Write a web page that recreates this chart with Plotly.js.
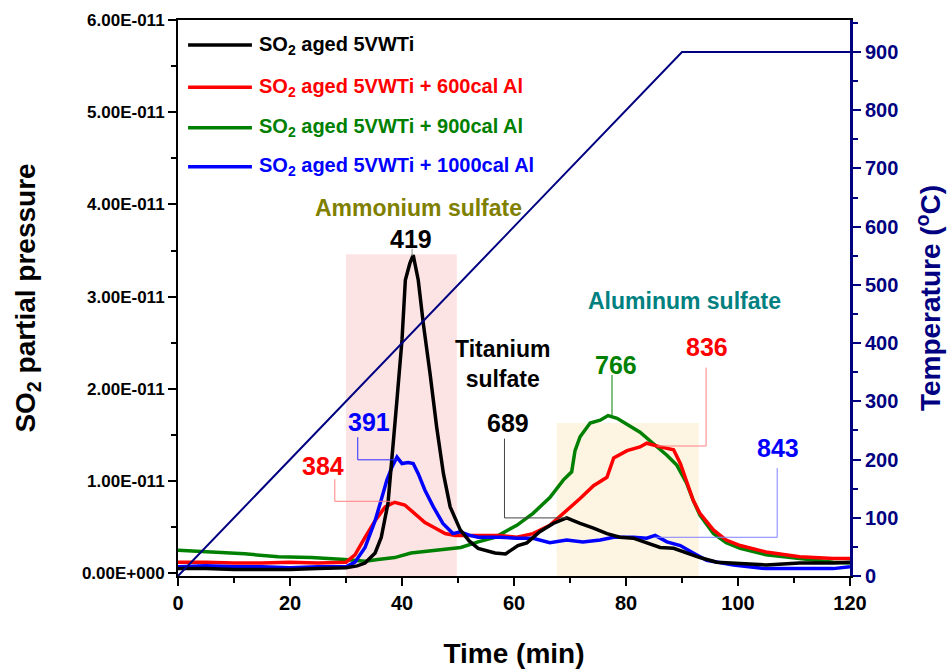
<!DOCTYPE html>
<html>
<head>
<meta charset="utf-8">
<script src="https://cdn.plot.ly/plotly-3.0.1.min.js"></script>
<style>html,body{margin:0;padding:0;background:#fff;}#chart{width:951px;height:670px;}</style>
</head>
<body>
<div id="chart"></div>
<script>
// Time (min) and SO2 partial pressure (units of 1E-11)
const blackT = [0,5,10,15,20,25,30,32,33.4,35.2,36.3,37.5,38.5,39.1,40,40.6,41.4,42,42.9,43.8,45,46.2,47.4,48.6,50.4,52,53.6,56.6,58.5,60.7,62.3,64.6,67,69.4,71.8,74.2,76.6,78.9,81.3,83.7,86.1,88.5,90.8,93.2,96.2,99.2,102,105,108,111,114,117,120];
const blackV = [0.05,0.05,0.04,0.04,0.04,0.05,0.06,0.08,0.11,0.22,0.39,0.76,1.4,1.88,2.53,3.18,3.36,3.45,3.18,2.71,2.17,1.58,1.08,0.72,0.47,0.35,0.27,0.22,0.21,0.30,0.33,0.45,0.54,0.60,0.54,0.49,0.43,0.39,0.38,0.33,0.28,0.27,0.22,0.17,0.12,0.11,0.10,0.09,0.10,0.11,0.11,0.11,0.12];

const redT = [0,5,10,15,20,25,30,31.6,33.4,35.2,37,38.7,40.5,42.3,44.1,45.9,47.7,49.5,53.6,57.5,60.5,63.4,66.4,69.4,71.8,74.2,76.6,77.8,80.2,82.5,83.7,86.1,88.5,89.7,90.8,92,93.2,95.6,97.9,100.4,105,111,117,120];
const redV = [0.12,0.12,0.11,0.11,0.12,0.11,0.12,0.2,0.39,0.57,0.72,0.77,0.74,0.65,0.55,0.49,0.43,0.41,0.41,0.41,0.39,0.43,0.52,0.68,0.81,0.95,1.04,1.25,1.33,1.37,1.41,1.37,1.34,1.19,1.01,0.79,0.65,0.47,0.36,0.30,0.23,0.18,0.16,0.16];

const greenT = [0,5.9,11.9,17.9,23.8,29.8,33.4,35.7,38.7,41.6,44.6,47.6,50.5,53.6,56.6,60.5,63.4,66.4,68.8,70.3,70.9,71.8,73.6,75.4,76.8,78.4,80.2,82.5,84.8,87.3,89.1,90.8,92,93.2,95.6,97.9,100.4,105,111,117,120];
const greenV = [0.25,0.23,0.21,0.18,0.17,0.15,0.13,0.15,0.17,0.22,0.24,0.26,0.28,0.34,0.39,0.52,0.65,0.82,1.01,1.10,1.33,1.48,1.63,1.66,1.71,1.68,1.61,1.53,1.41,1.28,1.17,0.98,0.79,0.63,0.43,0.33,0.27,0.20,0.16,0.12,0.11];

const blueT = [0,5,10,15,20,25,30,31.6,33.4,35.2,36.4,37.3,38.2,39.1,40,41.1,42,42.9,44.1,45.6,47.3,49.1,50.4,52.1,53.6,57.5,60.5,63.4,66.4,69.4,72.3,75.4,77.8,81.3,83.7,85.2,87.3,89.7,92,94.4,99.2,105,111,117,120];
const blueV = [0.07,0.08,0.07,0.07,0.06,0.07,0.07,0.12,0.28,0.57,0.82,1.01,1.15,1.26,1.19,1.20,1.19,1.08,0.90,0.72,0.54,0.43,0.45,0.41,0.39,0.39,0.38,0.38,0.33,0.36,0.34,0.36,0.39,0.39,0.38,0.41,0.34,0.30,0.22,0.14,0.09,0.05,0.05,0.05,0.07];

// Temperature program (°C)
const tempT = [0,90,120];
const tempV = [0,900,900];

const seriesNames = ["SO<sub>2</sub> aged 5VWTi","SO<sub>2</sub> aged 5VWTi + 600cal Al","SO<sub>2</sub> aged 5VWTi + 900cal Al","SO<sub>2</sub> aged 5VWTi + 1000cal Al"];
const seriesColors = ["#000000","#ff0000","#008000","#0000ff"];

const yTickVals = [0,1,2,3,4,5,6];
const yTickText = ["0.00E+000","1.00E-011","2.00E-011","3.00E-011","4.00E-011","5.00E-011","6.00E-011"];

// Shaded regions: [x0, x1, top]
const ammoniumBox = [30, 49.8, 3.46];
const aluminumBox = [67.6, 93.0, 1.63];

// Peak labels: text, label x, label y, leader path points (x,y pairs)
const peakText  = ["419","689","766","836","843","391","384"];
const peakColor = ["#000000","#000000","#008000","#ff0000","#0000ff","#0000ff","#ff0000"];
const leadColor = ["#888888","#444444","#008000","#ff8080","#8080ff","#2a2aff","#ff8080"];
const peakLabX  = [41.6, 58.9, 78.2, 94.5, 107.1, 34.1, 25.9];
const peakLabY  = [3.63, 1.63, 2.26, 2.45, 1.36, 1.64, 1.16];
const leaderX   = [[41.8,41.8],[58.3,58.3,69.5],[77.5,77.5],[94.3,94.3,85.5],[107,107,85.2],[32.1,32.1,39.1],[28.0,28.0,38.4]];
const leaderY   = [[3.52,3.44],[1.46,0.60,0.60],[2.15,1.70],[2.23,1.38,1.38],[1.14,0.39,0.39],[1.475,1.23,1.23],[1.02,0.78,0.78]];

const FONT = "Arial, 'Liberation Sans', sans-serif";

const traces = [
  {x: blackT, y: blackV, name: seriesNames[0], mode: "lines", line: {color: seriesColors[0], width: 3.5}, showlegend: false},
  {x: redT,   y: redV,   name: seriesNames[1], mode: "lines", line: {color: seriesColors[1], width: 3.5}, showlegend: false},
  {x: greenT, y: greenV, name: seriesNames[2], mode: "lines", line: {color: seriesColors[2], width: 3.5}, showlegend: false},
  {x: blueT,  y: blueV,  name: seriesNames[3], mode: "lines", line: {color: seriesColors[3], width: 3.5}, showlegend: false},
  {x: tempT,  y: tempV,  name: "Temperature", mode: "lines", yaxis: "y2", line: {color: "#000080", width: 2}, showlegend: false}
];
// draw order: black on top, as in the reference
const drawOrder = [2,1,3,0,4];
const data = drawOrder.map(i => traces[i]);

const shapes = [
  {type: "rect", xref: "x", yref: "y", x0: ammoniumBox[0], x1: ammoniumBox[1], y0: -0.03, y1: ammoniumBox[2], fillcolor: "#fde4e4", line: {width: 0}, layer: "below"},
  {type: "rect", xref: "x", yref: "y", x0: aluminumBox[0], x1: aluminumBox[1], y0: -0.03, y1: aluminumBox[2], fillcolor: "#fdf5e2", line: {width: 0}, layer: "below"}
];
peakText.forEach((t, i) => {
  let p = "M" + leaderX[i][0] + "," + leaderY[i][0];
  for (let k = 1; k < leaderX[i].length; k++) p += " L" + leaderX[i][k] + "," + leaderY[i][k];
  shapes.push({type: "path", xref: "x", yref: "y", path: p, line: {color: leadColor[i], width: 1}});
});

const annotations = [
  {x: 42.9, y: 3.96, xref: "x", yref: "y", text: "<b>Ammonium sulfate</b>", showarrow: false, font: {family: FONT, size: 23, color: "#808000"}},
  {x: 90.5, y: 2.95, xref: "x", yref: "y", text: "<b>Aluminum sulfate</b>", showarrow: false, font: {family: FONT, size: 23, color: "#008080"}},
  {x: 57.9, y: 2.27, xref: "x", yref: "y", text: "<b>Titanium<br>sulfate</b>", showarrow: false, font: {family: FONT, size: 23, color: "#000000"}}
];
peakText.forEach((t, i) => {
  annotations.push({x: peakLabX[i], y: peakLabY[i], xref: "x", yref: "y", text: "<b>" + t + "</b>", showarrow: false, font: {family: FONT, size: 25, color: peakColor[i]}});
});

// manual legend (line samples + coloured labels)
const legendRowY = [0.955, 0.879, 0.806, 0.736];
seriesNames.forEach((n, i) => {
  shapes.push({type: "line", xref: "paper", yref: "paper", x0: 0.015, x1: 0.110, y0: legendRowY[i], y1: legendRowY[i], line: {color: seriesColors[i], width: 3.5}});
  annotations.push({x: 0.117, y: legendRowY[i], xref: "paper", yref: "paper", xanchor: "left", yanchor: "middle", text: "<b>" + n + "</b>", showarrow: false, font: {family: FONT, size: 20, color: seriesColors[i]}});
});

const layout = {
  width: 951, height: 670,
  margin: {l: 178, r: 101, t: 20, b: 94},
  paper_bgcolor: "#ffffff", plot_bgcolor: "#ffffff",
  showlegend: false,
  font: {family: FONT},
  xaxis: {
    range: [0, 120], tickmode: "linear", tick0: 0, dtick: 20,
    ticks: "outside", ticklen: 8, tickwidth: 2, tickcolor: "#000",
    minor: {tickmode: "linear", tick0: 0, dtick: 10, ticks: "outside", ticklen: 5, tickwidth: 2, tickcolor: "#000"},
    showline: true, linecolor: "#000", linewidth: 2, mirror: true,
    showgrid: false, zeroline: false,
    tickfont: {family: FONT, size: 20, color: "#000", weight: 700},
    title: {text: "<b>Time (min)</b>", font: {family: FONT, size: 28, color: "#000"}, standoff: 30}
  },
  yaxis: {
    range: [-0.03, 6.0], tickmode: "array", tickvals: yTickVals, ticktext: yTickText,
    ticks: "outside", ticklen: 8, tickwidth: 2, tickcolor: "#000",
    minor: {tickmode: "linear", tick0: 0, dtick: 0.5, ticks: "outside", ticklen: 5, tickwidth: 2, tickcolor: "#000"},
    showline: true, linecolor: "#000", linewidth: 2,
    showgrid: false, zeroline: false,
    tickfont: {family: FONT, size: 17, color: "#000", weight: 700},
    title: {text: "<b>SO<sub>2</sub> partial pressure</b>", font: {family: FONT, size: 28, color: "#000"}, standoff: 38}
  },
  yaxis2: {
    overlaying: "y", side: "right", anchor: "x",
    range: [0, 955], tickmode: "linear", tick0: 0, dtick: 100,
    ticks: "outside", ticklen: 8, tickwidth: 2, tickcolor: "#000080",
    minor: {tickmode: "linear", tick0: 0, dtick: 50, ticks: "outside", ticklen: 5, tickwidth: 2, tickcolor: "#000080"},
    showline: true, linecolor: "#000080", linewidth: 3,
    showgrid: false, zeroline: false,
    tickfont: {family: FONT, size: 20, color: "#000080", weight: 700},
    title: {text: "<b>Temperature (<sup>o</sup>C)</b>", font: {family: FONT, size: 28, color: "#000080"}, standoff: 24}
  },
  shapes: shapes,
  annotations: annotations
};

Plotly.newPlot("chart", data, layout, {displayModeBar: false, staticPlot: true});
</script>
</body>
</html>
